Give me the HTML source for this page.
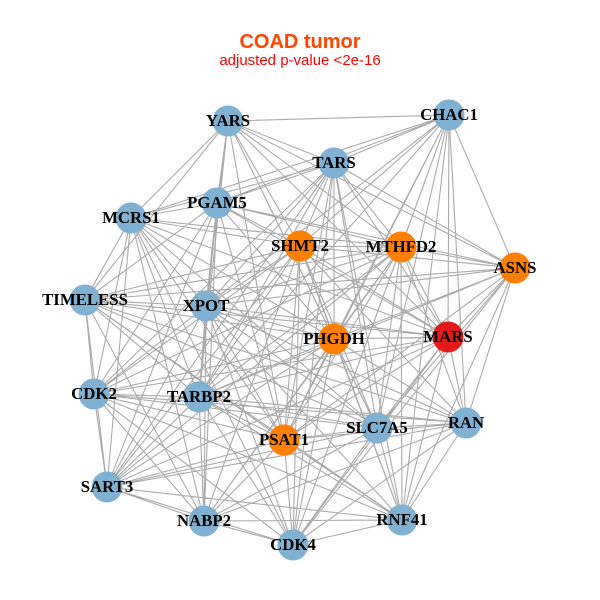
<!DOCTYPE html>
<html>
<head>
<meta charset="utf-8">
<style>
html,body{margin:0;padding:0;background:#ffffff;}
svg{display:block;}
</style>
</head>
<body>
<svg width="600" height="600" viewBox="0 0 600 600" xmlns="http://www.w3.org/2000/svg">
<rect width="600" height="600" fill="#ffffff"/>
<text x="300" y="48" text-anchor="middle" font-family="Liberation Sans, Arial, sans-serif" font-weight="bold" font-size="20" fill="#ff4500">COAD tumor</text>
<text x="300" y="65" text-anchor="middle" font-family="Liberation Sans, Arial, sans-serif" font-size="15" fill="#ff0000">adjusted p-value &lt;2e-16</text>
<path fill="none" stroke="#aaaaaa" stroke-width="1.1" d="
M228 121L449 115M228 121L334 163M228 121L217 203M228 121L131 218M228 121L300 246M228 121L401 247M228 121L515 268M228 121L85 300M228 121L206 306M228 121L334 339M228 121L448 337M228 121L199 397M228 121L377 428M228 121L284 440
M449 115L334 163M449 115L217 203M449 115L131 218M449 115L300 246M449 115L401 247M449 115L515 268M449 115L206 306M449 115L334 339M449 115L448 337M449 115L199 397M449 115L466 423M449 115L377 428M449 115L284 440M449 115L402 520M449 115L293 545
M334 163L217 203M334 163L131 218M334 163L300 246M334 163L401 247M334 163L515 268M334 163L206 306M334 163L334 339M334 163L448 337M334 163L94 394M334 163L199 397M334 163L377 428M334 163L284 440M334 163L107 487M334 163L402 520M334 163L293 545
M217 203L131 218M217 203L300 246M217 203L401 247M217 203L515 268M217 203L85 300M217 203L206 306M217 203L334 339M217 203L448 337M217 203L94 394M217 203L199 397M217 203L284 440M217 203L107 487M217 203L204 521
M131 218L300 246M131 218L401 247M131 218L85 300M131 218L206 306M131 218L334 339M131 218L448 337M131 218L94 394M131 218L199 397M131 218L377 428M131 218L284 440M131 218L107 487M131 218L204 521M131 218L293 545
M300 246L401 247M300 246L515 268M300 246L85 300M300 246L206 306M300 246L334 339M300 246L448 337M300 246L94 394M300 246L199 397M300 246L466 423M300 246L377 428M300 246L284 440M300 246L107 487M300 246L204 521M300 246L402 520M300 246L293 545
M401 247L515 268M401 247L85 300M401 247L206 306M401 247L334 339M401 247L448 337M401 247L94 394M401 247L199 397M401 247L466 423M401 247L377 428M401 247L284 440M401 247L107 487M401 247L204 521M401 247L402 520M401 247L293 545
M515 268L85 300M515 268L206 306M515 268L334 339M515 268L448 337M515 268L199 397M515 268L466 423M515 268L377 428M515 268L284 440M515 268L402 520M515 268L293 545
M85 300L206 306M85 300L334 339M85 300L448 337M85 300L94 394M85 300L199 397M85 300L466 423M85 300L377 428M85 300L284 440M85 300L107 487M85 300L204 521M85 300L402 520
M206 306L334 339M206 306L448 337M206 306L94 394M206 306L199 397M206 306L466 423M206 306L377 428M206 306L284 440M206 306L107 487M206 306L204 521M206 306L402 520M206 306L293 545
M334 339L448 337M334 339L94 394M334 339L199 397M334 339L466 423M334 339L377 428M334 339L284 440M334 339L107 487M334 339L204 521M334 339L402 520M334 339L293 545
M448 337L94 394M448 337L199 397M448 337L466 423M448 337L377 428M448 337L284 440M448 337L107 487M448 337L402 520M448 337L293 545
M94 394L199 397M94 394L466 423M94 394L377 428M94 394L284 440M94 394L107 487M94 394L204 521M94 394L402 520M94 394L293 545
M199 397L466 423M199 397L377 428M199 397L284 440M199 397L107 487M199 397L204 521M199 397L402 520M199 397L293 545
M466 423L377 428M466 423L284 440M466 423L107 487M466 423L204 521M466 423L402 520M466 423L293 545
M377 428L284 440M377 428L107 487M377 428L204 521M377 428L402 520M377 428L293 545
M284 440L107 487M284 440L204 521M284 440L402 520M284 440L293 545
M107 487L204 521M107 487L402 520M107 487L293 545
M204 521L402 520M204 521L293 545
M402 520L293 545"/>
<g>
<circle cx="228" cy="121" r="15.5" fill="#80b1d3"/>
<circle cx="449" cy="115" r="15.5" fill="#80b1d3"/>
<circle cx="334" cy="163" r="15.5" fill="#80b1d3"/>
<circle cx="217" cy="203" r="15.5" fill="#80b1d3"/>
<circle cx="131" cy="218" r="15.5" fill="#80b1d3"/>
<circle cx="300" cy="246" r="15.5" fill="#ff7f00"/>
<circle cx="401" cy="247" r="15.5" fill="#ff7f00"/>
<circle cx="515" cy="268" r="15.5" fill="#ff7f00"/>
<circle cx="85" cy="300" r="15.5" fill="#80b1d3"/>
<circle cx="206" cy="306" r="15.5" fill="#80b1d3"/>
<circle cx="334" cy="339" r="15.5" fill="#ff7f00"/>
<circle cx="448" cy="337" r="15.5" fill="#e31a1c"/>
<circle cx="94" cy="394" r="15.5" fill="#80b1d3"/>
<circle cx="199" cy="397" r="15.5" fill="#80b1d3"/>
<circle cx="466" cy="423" r="15.5" fill="#80b1d3"/>
<circle cx="377" cy="428" r="15.5" fill="#80b1d3"/>
<circle cx="284" cy="440" r="15.5" fill="#ff7f00"/>
<circle cx="107" cy="487" r="15.5" fill="#80b1d3"/>
<circle cx="204" cy="521" r="15.5" fill="#80b1d3"/>
<circle cx="402" cy="520" r="15.5" fill="#80b1d3"/>
<circle cx="293" cy="545" r="15.5" fill="#80b1d3"/>
</g>
<g font-family="Liberation Serif, 'Times New Roman', serif" font-weight="bold" font-size="16.8" fill="#000000" text-anchor="middle">
<text x="228" y="126">YARS</text>
<text x="449" y="120">CHAC1</text>
<text x="334" y="168">TARS</text>
<text x="217" y="208">PGAM5</text>
<text x="131" y="223">MCRS1</text>
<text x="300" y="251">SHMT2</text>
<text x="401" y="252">MTHFD2</text>
<text x="515" y="273">ASNS</text>
<text x="85" y="305">TIMELESS</text>
<text x="206" y="311">XPOT</text>
<text x="334" y="344">PHGDH</text>
<text x="448" y="342">MARS</text>
<text x="94" y="399">CDK2</text>
<text x="199" y="402">TARBP2</text>
<text x="466" y="428">RAN</text>
<text x="377" y="433">SLC7A5</text>
<text x="284" y="445">PSAT1</text>
<text x="107" y="492">SART3</text>
<text x="204" y="526">NABP2</text>
<text x="402" y="525">RNF41</text>
<text x="293" y="550">CDK4</text>
</g>
</svg>
</body>
</html>
